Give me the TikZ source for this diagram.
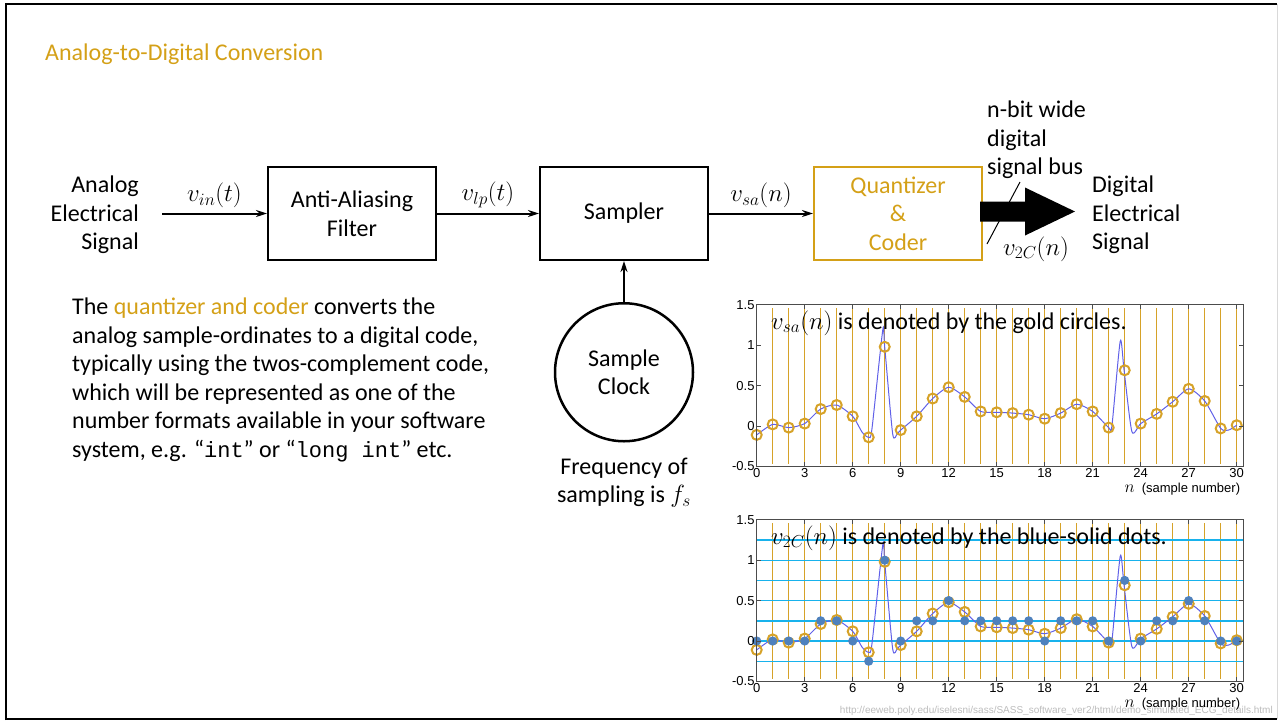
\documentclass[tikz,border=0pt]{standalone}
\usepackage{fontspec}
\setmainfont{Carlito}
\setsansfont{Liberation Sans}
\setmonofont{Liberation Mono}
\usetikzlibrary{arrows.meta,positioning}

\definecolor{adcgold}{RGB}{212,160,23}
\definecolor{linegold}{RGB}{214,162,40}
\definecolor{traceblue}{RGB}{96,96,232}
\definecolor{levelcyan}{RGB}{24,178,236}
\definecolor{dotblue}{RGB}{79,129,189}
\definecolor{urlgray}{RGB}{188,188,188}

\newcommand{\bodyfont}{\fontsize{24}{28.5}\selectfont}

% n/v_sa(n) of the sampled trace
\newcommand{\sampvals}{0/-0.11,1/0.02,2/-0.02,3/0.03,4/0.21,5/0.26,6/0.12,7/-0.14,8/0.98,9/-0.05,10/0.12,11/0.34,12/0.48,13/0.36,14/0.18,15/0.17,16/0.16,17/0.14,18/0.09,19/0.16,20/0.27,21/0.18,22/-0.02,23/0.69,24/0.03,25/0.15,26/0.30,27/0.46,28/0.31,29/-0.03,30/0.01}
% n/v_2C(n), rounded to steps of 0.25
\newcommand{\codevals}{0/0,1/0,2/0,3/0,4/0.25,5/0.25,6/0,7/-0.25,8/1,9/0,10/0.25,11/0.25,12/0.5,13/0.25,14/0.25,15/0.25,16/0.25,17/0.25,18/0,19/0.25,20/0.25,21/0.25,22/0,23/0.75,24/0,25/0.25,26/0.25,27/0.5,28/0.25,29/0,30/0}

\begin{document}
\begin{tikzpicture}
  [x=1pt,y=-1pt,
  txt/.style={font=\bodyfont,inner sep=0pt},
  lbl/.style={font=\bodyfont,inner sep=2pt},
  blk/.style={draw,line width=2pt,minimum width=168pt,minimum height=93pt,align=center,font=\bodyfont},
  clock/.style={circle,draw,line width=2.5pt,minimum size=138pt,align=center,font=\bodyfont},
  sig/.style={line width=2pt,-{Stealth[length=11pt,width=7pt]}},
  sampline/.style={linegold,line width=1.4pt},
  levelline/.style={levelcyan,line width=1.4pt},
  trace/.style={traceblue,line width=1pt},
  ring/.style={linegold,line width=2pt},
  axis/.style={black!70,line width=0.8pt},
  tick/.style={font=\sffamily\fontsize{13}{13}\selectfont,inner sep=2pt}]

  \useasboundingbox (0,0) rectangle (1278,721);

  \draw[line width=2pt] (6,720) -- (6,4) -- (1277,4);
  \draw[line width=2pt] (6,719) -- (1277,719);
  \draw[black!15] (1277,4) -- (1277,719);

  \node[txt,text=adcgold,anchor=west] (ttl) at (45,54) {Analog-to-Digital Conversion};

  \node[txt,align=right,anchor=east] (ain) at (139,215) {Analog\\Electrical\\Signal};
  \coordinate (ainend) at (162,213.5);

  \node[blk] (aaf) at (352,213.5) {Anti-Aliasing\\Filter};
  \node[blk,right=102pt of aaf] (smp) {Sampler};
  \node[blk,draw=adcgold,text=adcgold,right=104pt of smp] (qnt) {Quantizer\\\&\\Coder};
  \node[clock,below=41pt of smp] (clk) {Sample\\Clock};
  \node[txt,align=center,below=15pt of clk] (freq) {Frequency of\\sampling is $f_s$};

  \draw[sig] (ainend) -- node[lbl,above=3pt] {$v_{in}(t)$} (aaf);
  \draw[sig] (aaf) -- node[lbl,above=3pt] {$v_{lp}(t)$} (smp);
  \draw[sig] (smp) -- node[lbl,above=3pt] {$v_{sa}(n)$} (qnt);
  \draw[sig] (clk) -- (smp);

  \fill (980,201.5) -- (1025,201.5) -- (1025,187.5) -- (1075,211.5)
    -- (1025,235.5) -- (1025,221.5) -- (980,221.5) -- cycle;
  \draw[line width=1pt] (1020,182) -- (987,244);

  \node[txt,align=left,anchor=west] (busnote) at (987,140) {n-bit wide\\digital\\signal bus};
  \node[lbl] (vcode) at (1036,249) {$v_{2C}(n)$};
  \node[txt,align=left,anchor=west] (dout) at (1092,215) {Digital\\Electrical\\Signal};

  \node[txt,align=left,anchor=north west] (note) at (72,298)
    {The \textcolor{adcgold}{quantizer and coder} converts the\\
     analog sample-ordinates to a digital code,\\
     typically using the twos-complement code,\\
     which will be represented as one of the\\
     number formats available in your software\\
     system, e.g. “{\fontsize{22}{28.5}\ttfamily int}” or “{\fontsize{22}{28.5}\ttfamily long int}” etc.};

  \node[font=\sffamily\fontsize{10}{10}\selectfont,text=urlgray,inner sep=0pt,anchor=east] (src) at (1273,711)
    {http://eeweb.poly.edu/iselesni/sass/SASS\_software\_ver2/html/demo\_simulated\_ECG\_details.html};

  \foreach \py/\coded in {426/0,641/1}{
    \begin{scope}[shift={(756.7,\py)},x=16pt,y=80.8pt]
      \foreach \n in {1,...,30}
        \draw[sampline] (\n,-0.47) -- (\n,1.46);
      \ifnum\coded=1
        \foreach \v in {-0.25,0,0.25,0.5,0.75,1,1.25}
          \draw[levelline] (0,\v) -- (30.4,\v);
      \fi
      \draw[trace] plot[smooth,tension=0.4] coordinates {(0,-0.11) (1,0.02) (2,-0.02) (3,0.03)
        (4,0.21) (5,0.26) (6,0.12) (6.6,-0.08) (7,-0.14) (7.2,-0.04) (7.88,1.19) (8,0.98)
        (8.5,-0.1) (8.8,-0.09) (9,-0.05) (10,0.12) (11,0.34) (12,0.48) (13,0.36) (14,0.18)
        (15,0.17) (16,0.16) (17,0.14) (18,0.09) (19,0.16) (20,0.27) (21,0.18) (22,-0.02)
        (22.2,0) (22.72,1.05) (22.96,0.69) (23.45,-0.07) (24,0.03) (25,0.15) (26,0.3)
        (27,0.46) (28,0.31) (29,-0.03) (29.5,-0.05) (30,0.01)};
      \foreach \n/\v in \sampvals
        \draw[ring] (\n,\v) circle[radius=5pt];
      \ifnum\coded=1
        \foreach \n/\v in \codevals
          \fill[dotblue] (\n,\v) circle[radius=4.6pt];
      \fi
      \draw[axis] (0,-0.5) rectangle (30.4,1.5);
      \foreach \n in {0,3,...,30}{
        \draw[axis] (\n,-0.5) -- ++(0,0.05);
        \draw[axis] (\n,1.5) -- ++(0,-0.05);
        \node[tick,below] at (\n,-0.5) {\n};
      }
      \foreach \v in {-0.5,0,0.5,1,1.5}{
        \draw[axis] (0,\v) -- ++(0.25,0);
        \draw[axis] (30.4,\v) -- ++(-0.25,0);
        \node[tick,left] at (0,\v) {\v};
      }
      \node[tick,anchor=base east] at (30.35,-0.82) {{\fontsize{17}{17}\selectfont$n$}~~(sample number)};
    \end{scope}
  }

  \node[txt,anchor=west] (capsa) at (771,323) {$v_{sa}(n)$ is denoted by the gold circles.};
  \node[txt,anchor=west] (cap2c) at (771,538) {$v_{2C}(n)$ is denoted by the blue-solid dots.};

\end{tikzpicture}
\end{document}
